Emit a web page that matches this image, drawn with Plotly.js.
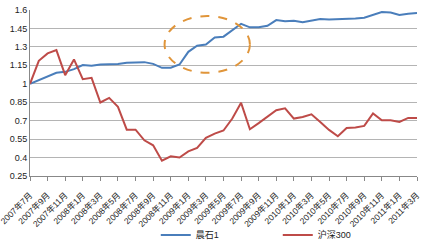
<!DOCTYPE html>
<html>
<head>
<meta charset="utf-8">
<script src="https://cdn.plot.ly/plotly-3.0.1.min.js"></script>
<style>html,body{margin:0;padding:0;background:#fff;}#chart{width:430px;height:243px;}</style>
</head>
<body>
<div id="chart"></div>
<script>
var months = [
 "2007年7月","2007年8月","2007年9月","2007年10月","2007年11月","2007年12月",
 "2008年1月","2008年2月","2008年3月","2008年4月","2008年5月","2008年6月",
 "2008年7月","2008年8月","2008年9月","2008年10月","2008年11月","2008年12月",
 "2009年1月","2009年2月","2009年3月","2009年4月","2009年5月","2009年6月",
 "2009年7月","2009年8月","2009年9月","2009年10月","2009年11月","2009年12月",
 "2010年1月","2010年2月","2010年3月","2010年4月","2010年5月","2010年6月",
 "2010年7月","2010年8月","2010年9月","2010年10月","2010年11月","2010年12月",
 "2011年1月","2011年2月","2011年3月"
];
var seriesNames = ["晨石1", "沪深300"];
var fundValues = [
 1.00,1.03,1.057,1.09,1.097,1.119,1.152,1.146,1.157,1.157,1.16,1.17,
 1.176,1.176,1.162,1.13,1.13,1.157,1.26,1.309,1.32,1.377,1.383,1.437,
 1.488,1.459,1.459,1.472,1.518,1.508,1.513,1.50,1.516,1.527,1.522,1.523,
 1.527,1.53,1.537,1.559,1.584,1.58,1.559,1.57,1.575
];
var indexValues = [
 1.00,1.187,1.247,1.274,1.07,1.198,1.037,1.048,0.848,0.885,0.812,0.627,
 0.627,0.54,0.50,0.375,0.41,0.40,0.45,0.478,0.56,0.595,0.62,0.717,
 0.845,0.63,0.68,0.73,0.785,0.80,0.717,0.73,0.752,0.69,0.625,0.573,
 0.64,0.645,0.657,0.758,0.703,0.703,0.69,0.722,0.722
];
var yTicks = [0.25,0.4,0.55,0.7,0.85,1,1.15,1.3,1.45,1.6];
var yTickText = ["0.25","0.4","0.55","0.7","0.85","1","1.15","1.3","1.45","1.6"];

var tickMonths = months.filter(function(m, i){ return i % 2 === 0; });
var font = "Liberation Sans, Noto Sans CJK SC, sans-serif";

var traces = [
 {x: months, y: fundValues, name: seriesNames[0], type: "scatter", mode: "lines",
  line: {color: "#4a7ebb", width: 2}},
 {x: months, y: indexValues, name: seriesNames[1], type: "scatter", mode: "lines",
  line: {color: "#be4b48", width: 2}}
];

var layout = {
 width: 430, height: 243,
 margin: {l: 30, r: 13, t: 10, b: 67, autoexpand: false},
 paper_bgcolor: "#ffffff", plot_bgcolor: "#ffffff",
 font: {family: font, size: 9, color: "#222"},
 showlegend: true,
 legend: {orientation: "h", x: 0.325, xanchor: "left", y: -0.355, yanchor: "middle",
   font: {size: 9, family: font, color: "#222"}, itemwidth: 30,
   entrywidth: 77, entrywidthmode: "pixels", tracegroupgap: 0,
   bgcolor: "rgba(0,0,0,0)"},
 xaxis: {type: "category", range: [0, months.length - 1], automargin: false,
   tickmode: "array", tickvals: tickMonths, ticktext: tickMonths,
   tickangle: -45, ticks: "outside", ticklen: 4, tickcolor: "#888",
   ticklabelstandoff: 6,
   showline: true, linecolor: "#888", linewidth: 1,
   showgrid: false, zeroline: false,
   tickfont: {size: 8.5, family: font, color: "#222"}},
 yaxis: {range: [0.25, 1.6], automargin: false, tickmode: "array", tickvals: yTicks, ticktext: yTickText,
   showgrid: true, gridcolor: "#b4b4b4", gridwidth: 1,
   showline: true, linecolor: "#888", linewidth: 1, ticks: "",
   zeroline: false, tickfont: {size: 9, family: font, color: "#222"}},
 shapes: [{type: "circle", xref: "x", yref: "y", x0: 15.3, x1: 25, y0: 1.089, y1: 1.551,
   line: {color: "#e0953a", width: 2, dash: "dash"}, fillcolor: "rgba(0,0,0,0)"}]
};

Plotly.newPlot("chart", traces, layout, {displayModeBar: false, staticPlot: true});
</script>
</body>
</html>
